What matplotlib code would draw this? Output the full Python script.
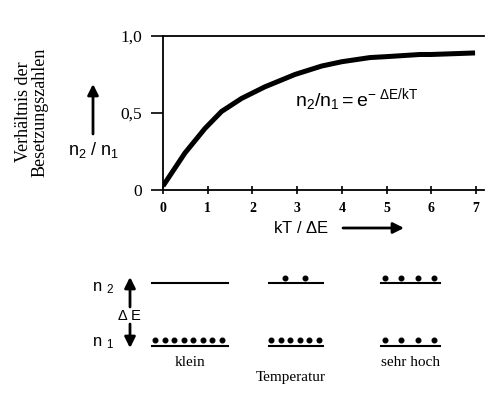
import numpy as np
import matplotlib.pyplot as plt


# ************************************************************
# Data
# ************************************************************

kT_over_dE = [0.0, 0.49, 0.94, 1.31, 1.76, 2.28, 2.95, 3.55, 4.0, 4.63, 5.0, 5.75, 6.0, 6.98]
ratio = [0.026, 0.24, 0.40, 0.51, 0.595, 0.67, 0.75, 0.805, 0.833, 0.86, 0.866, 0.88, 0.88, 0.89]

x_ticks = [0, 1, 2, 3, 4, 5, 6, 7]
y_ticks = [0, 0.5, 1.0]
y_tick_labels = ["0", "0,5", "1,0"]

temp_labels = ["klein", "", "sehr hoch"]
upper_counts = [0, 2, 4]
lower_counts = [8, 6, 4]

serif = "Liberation Serif"
sans = "Liberation Sans"

plt.rcParams['mathtext.fontset'] = 'custom'
plt.rcParams['mathtext.rm'] = sans
plt.rcParams['mathtext.it'] = sans

W, H = 499, 405
fig = plt.figure(figsize=(W / 100, H / 100), dpi=100)


# ************************************************************
# Main axes
# ************************************************************

ax = fig.add_axes([163 / W, 1 - 190 / H, (484 - 163) / W, (190 - 36) / H])

ax.plot(kT_over_dE, ratio, color='black', lw=3.6,
        solid_capstyle='butt', solid_joinstyle='round')

ax.set_xlim(0, 7.18)
ax.set_ylim(0, 1)

ax.spines['right'].set_visible(False)
for s in ['left', 'bottom', 'top']:
    ax.spines[s].set_linewidth(1.3)

ax.set_yticks(y_ticks)
ax.set_yticklabels(y_tick_labels, fontfamily=serif, fontsize=12.5)
ax.tick_params(axis='y', direction='out', length=9, width=1.2, pad=6)

ax.set_xticks(x_ticks)
ax.set_xticklabels([str(v) for v in x_ticks], fontfamily=serif, fontsize=10, fontweight='bold')
ax.tick_params(axis='x', direction='inout', length=6, width=1.2, pad=6)


# ************************************************************
# Overlay in pixel coordinates for labels and the level scheme
# ************************************************************

ov = fig.add_axes([0, 0, 1, 1])
ov.set_xlim(0, W)
ov.set_ylim(H, 0)
ov.axis('off')
ov.patch.set_alpha(0)

arrow = dict(arrowstyle='-|>', lw=2, color='black', mutation_scale=16, shrinkA=0, shrinkB=0)

ov.text(32, 112, "Verhältnis der\nBesetzungszahlen", rotation=90,
        ha='center', va='center', fontfamily=serif, fontsize=13, linespacing=1.0)

ov.annotate('', xy=(93, 84), xytext=(93, 134), arrowprops=arrow)
ov.text(94, 150, r"$\mathrm{n_2\ /\ n_1}$", ha='center', va='center', fontsize=13)

ov.text(295, 100, r"$\mathrm{n_2/n_1 = e^{-\ \Delta E/kT}}$", ha='left', va='center', fontsize=14)

ov.text(301, 228, r"$\mathrm{kT\ /\ \Delta E}$", ha='center', va='center', fontsize=12)
ov.annotate('', xy=(404, 228), xytext=(343, 228), arrowprops=arrow)


# ----- energy level scheme -----

ov.text(103, 287, r"$\mathrm{n\ _2}$", ha='center', va='center', fontsize=12)
ov.text(103, 342, r"$\mathrm{n\ _1}$", ha='center', va='center', fontsize=12)
ov.text(129, 316, r"$\mathrm{\Delta\ E}$", ha='center', va='center', fontsize=10.5)
ov.annotate('', xy=(130, 277), xytext=(130, 307), arrowprops=arrow)
ov.annotate('', xy=(130, 348), xytext=(130, 324), arrowprops=arrow)

col_spans = [(152, 228), (269, 323), (381, 440)]
y_up, y_low = 283, 346

for (x0, x1), n_up, n_low, lab in zip(col_spans, upper_counts, lower_counts, temp_labels):
    ov.plot([x0, x1], [y_up, y_up], color='black', lw=1.5)
    ov.plot([x0, x1], [y_low, y_low], color='black', lw=1.5)
    for n, y in [(n_up, y_up - 5), (n_low, y_low - 6)]:
        if n > 0:
            margin = (x1 - x0) * (0.04 if n > 4 else 0.06 if n > 2 else 0.3)
            xs = np.linspace(x0 + margin, x1 - margin - (x1 - x0) * 0.04, n)
            ov.plot(xs, [y] * n, 'o', color='black', ms=3.3)
    if lab:
        ov.text((x0 + x1) / 2, 362, lab, ha='center', va='center', fontfamily=serif, fontsize=11)

ov.text(291, 378, "Temperatur", ha='center', va='center', fontfamily=serif, fontsize=11)

fig.savefig("out.png", dpi=100)
